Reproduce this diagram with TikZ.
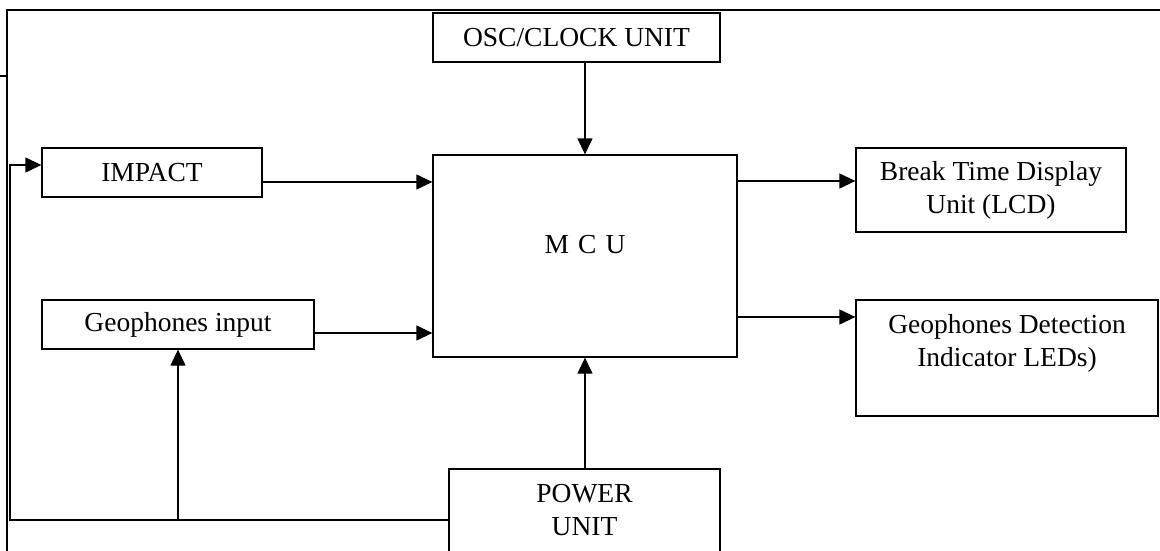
\documentclass[tikz,border=0pt]{standalone}
\usepackage{fontspec}
\setmainfont{Liberation Serif}
\usetikzlibrary{arrows.meta}
\begin{document}
\begin{tikzpicture}[x=1pt,y=-1pt,
  box/.style={draw, line width=1.3pt, inner sep=0pt},
  txt/.style={font=\fontsize{27.5}{33}\selectfont, align=center, inner sep=0pt},
  wire/.style={line width=1.3pt},
  arr/.style={line width=1.3pt, -{Triangle[length=16pt,width=15pt]}}]
\useasboundingbox (0,0) rectangle (1160,551);
% frame
\draw[wire] (1160,10) -- (7,10) -- (7,551);
\draw[wire] (0,76) -- (7,76);
% boxes
\node[box, txt, minimum width=287pt, minimum height=49pt] (osc) at (576.5,37.5) {OSC/CLOCK UNIT};
\node[box, minimum width=304pt, minimum height=202pt,
      label={[txt,yshift=11pt]center:M\,\,C\,\,U}] (mcu) at (585,256) {};
\node[box, txt, minimum width=220pt, minimum height=49pt] (impact) at (152,172.5) {IMPACT};
\node[box, txt, minimum width=272pt, minimum height=49pt] (geo) at (178,324.5) {Geophones input};
\node[box, txt, minimum width=270pt, minimum height=84pt] (brk) at (991,190) {Break Time Display\\Unit (LCD)};
\node[box, minimum width=302pt, minimum height=116pt,
      label={[txt,yshift=14.5pt]center:Geophones Detection\\Indicator LEDs)}] (det) at (1007,358) {};
\node[box, minimum width=271pt, minimum height=102pt,
      label={[txt,yshift=10pt]center:POWER\\UNIT}] (pwr) at (584.5,520) {};
% connector end points
\coordinate (impOut) at ([yshift=-9.5pt]impact.east);
\coordinate (geoOut) at ([yshift=-8.5pt]geo.east);
\coordinate (brkIn) at ([yshift=9pt]brk.west);
\coordinate (detIn) at ([yshift=41pt]det.west);
\coordinate (impIn) at ([yshift=7.5pt]impact.west);
\coordinate (bl) at (10,520);
% connectors
\draw[arr] (osc.south -| mcu.north) -- (mcu.north);
\draw[arr] (impOut) -- (mcu.west |- impOut);
\draw[arr] (geoOut) -- (mcu.west |- geoOut);
\draw[arr] (mcu.east |- brkIn) -- (brkIn);
\draw[arr] (mcu.east |- detIn) -- (detIn);
\draw[arr] (pwr.north -| mcu.south) -- (mcu.south);
\draw[arr] (pwr.west) -- (bl) -- (bl |- impIn) -- (impIn);
\draw[arr] (pwr.west -| geo.south) -- (geo.south);
\end{tikzpicture}
\end{document}
